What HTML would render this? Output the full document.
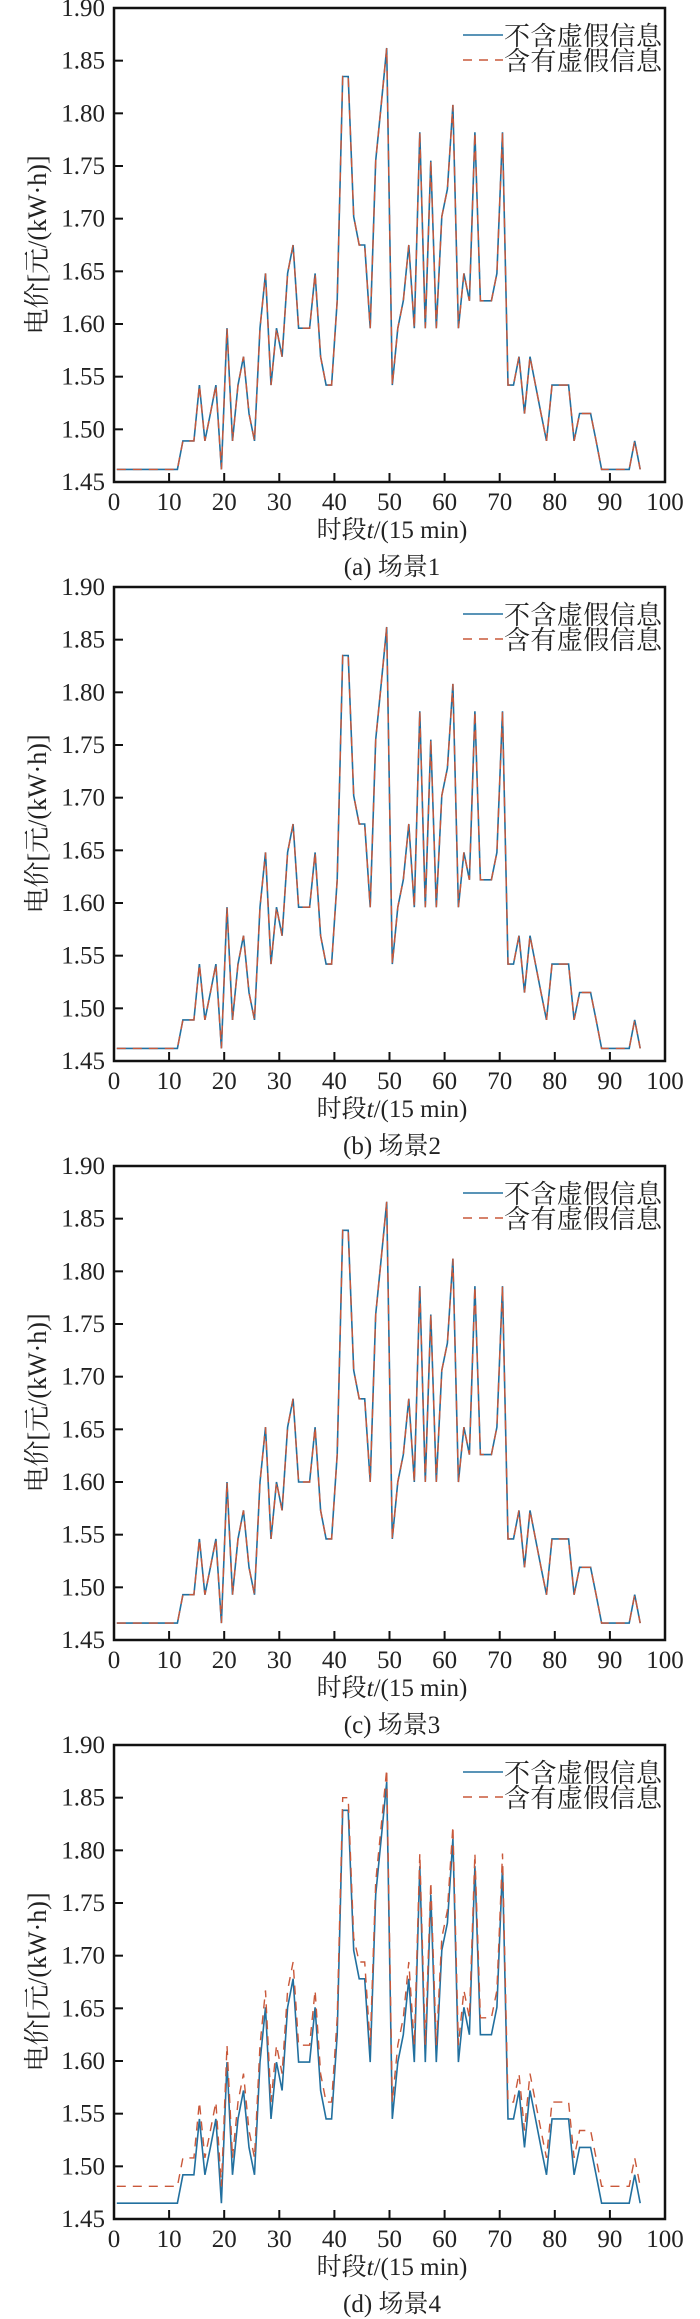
<!DOCTYPE html>
<html><head><meta charset="utf-8"><style>
html,body{margin:0;padding:0;background:#fff;}
svg{display:block;}
text{font-family:"Liberation Serif","Noto Serif CJK SC","Noto Sans CJK SC",serif;fill:#222;}
</style></head><body>
<svg id="s" width="700" height="2319" xmlns="http://www.w3.org/2000/svg"></svg>
<script>
var base=[1.462,1.462,1.462,1.462,1.462,1.462,1.462,1.462,1.462,1.462,1.462,1.462,
1.489,1.489,1.489,1.542,1.489,1.515,1.542,1.462,1.596,1.489,1.542,1.569,1.515,1.489,
1.596,1.648,1.542,1.596,1.569,1.648,1.675,1.596,1.596,1.596,1.648,1.569,1.542,1.542,
1.622,1.835,1.835,1.702,1.675,1.675,1.596,1.755,1.808,1.862,1.542,1.596,1.622,1.675,
1.596,1.782,1.596,1.755,1.596,1.702,1.728,1.808,1.596,1.648,1.622,1.782,1.622,1.622,
1.622,1.648,1.782,1.542,1.542,1.569,1.515,1.569,1.542,1.515,1.489,1.542,1.542,1.542,
1.542,1.489,1.515,1.515,1.515,1.489,1.462,1.462,1.462,1.462,1.462,1.462,1.489,1.462];
var L=114,R=665,H=474,s=document.getElementById('s'),out='';
var caps=['(a) 场景1','(b) 场景2','(c) 场景3','(d) 场景4'];
var offs=[0,0,0.004,0.003];
for(var p=0;p<4;p++){
 var T=8+579*p,B=T+H;
 function X(t){return L+t*(R-L)/100;}
 function Y(v){return B-(v-1.45)/0.45*H;}
 var blue='',red='';
 for(var i=0;i<96;i++){
  var v=base[i]+offs[p];
  var rv=v;
  if(p==3){rv=v+(v<1.70?0.016:0.012);}
  blue+=(i?'L':'M')+X(i+0.5).toFixed(1)+' '+Y(v).toFixed(1);
  red+=(i?'L':'M')+X(i+0.5).toFixed(1)+' '+Y(rv).toFixed(1);
 }
 out+='<path d="'+blue+'" fill="none" stroke="#22709f" stroke-width="1.6"/>';
 out+='<path d="'+red+'" fill="none" stroke="#c9583a" stroke-width="1.4" stroke-dasharray="9,7"/>';
 out+='<rect x="'+L+'" y="'+T+'" width="'+(R-L)+'" height="'+H+'" fill="none" stroke="#111" stroke-width="2.5"/>';
 for(var k=0;k<=10;k++){
  var x=X(k*10);
  if(k>0&&k<10) out+='<line x1="'+x+'" y1="'+B+'" x2="'+x+'" y2="'+(B-9)+'" stroke="#111" stroke-width="2"/>';
  out+='<text x="'+x+'" y="'+(B+28)+'" font-size="25" text-anchor="middle">'+(k*10)+'</text>';
 }
 for(var k=0;k<=9;k++){
  var v=1.45+k*0.05,y=Y(v);
  if(k>0&&k<9) out+='<line x1="'+L+'" y1="'+y+'" x2="'+(L+9)+'" y2="'+y+'" stroke="#111" stroke-width="2"/>';
  out+='<text x="'+(L-9)+'" y="'+(y+8)+'" font-size="25" text-anchor="end">'+v.toFixed(2)+'</text>';
 }
 var cy=(T+B)/2;
 out+='<text transform="translate(46 '+cy+') rotate(-90)" font-size="26" text-anchor="middle">电价[元/(kW·h)]</text>';
 out+='<text x="392" y="'+(B+56)+'" font-size="25" text-anchor="middle">时段<tspan font-style="italic">t</tspan>/(15 min)</text>';
 out+='<text x="392" y="'+(B+93)+'" font-size="25" text-anchor="middle">'+caps[p]+'</text>';
 out+='<line x1="463" y1="'+(T+27)+'" x2="503" y2="'+(T+27)+'" stroke="#22709f" stroke-width="1.6"/>';
 out+='<line x1="463" y1="'+(T+52)+'" x2="503" y2="'+(T+52)+'" stroke="#c9583a" stroke-width="1.4" stroke-dasharray="9,7"/>';
 out+='<text x="504" y="'+(T+37)+'" font-size="26" fill="#333" textLength="158">不含虚假信息</text>';
 out+='<text x="504" y="'+(T+62)+'" font-size="26" fill="#333" textLength="158">含有虚假信息</text>';
}
s.innerHTML=out;
</script>
</body></html>
